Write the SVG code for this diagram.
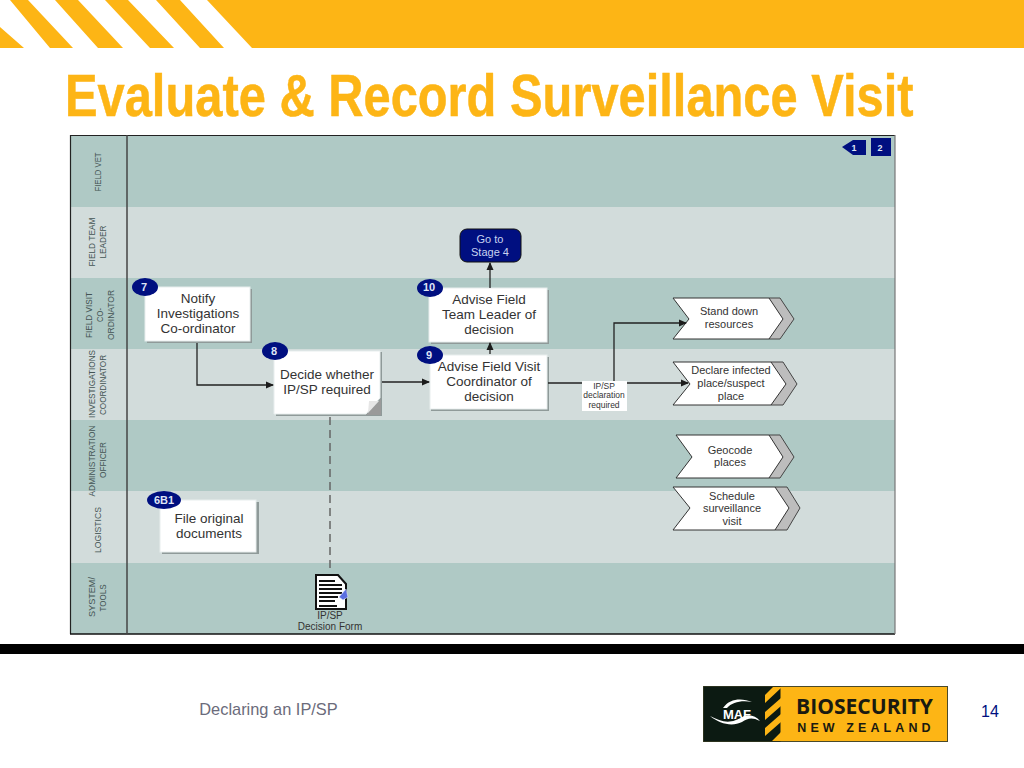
<svg xmlns="http://www.w3.org/2000/svg" width="1024" height="768" viewBox="0 0 1024 768">
<defs>
<marker id="arr" viewBox="0 0 8 8" refX="7" refY="4" markerWidth="8" markerHeight="8" markerUnits="userSpaceOnUse" orient="auto"><path d="M0 0.5L8 4L0 7.5z" fill="#1c1c1c"/></marker>
</defs>
<style>
text{font-family:"Liberation Sans",Arial,sans-serif;text-anchor:middle}
.dark{fill:#afc9c5}.light{fill:#d2dcdb}
.lane{font-size:9px;fill:#445454}
.box{fill:#fff;stroke:#e8eeee;stroke-width:1}
.sh{fill:#8f9a99}
.t{font-size:13.5px;fill:#333}
.s{font-size:11px;fill:#333}
.badge{fill:#000f80}
.b{font-size:11px;font-weight:bold;fill:#dfe4f5}
.conn{fill:none;stroke:#222;stroke-width:1.3}
.chev{fill:#fff;stroke:#333;stroke-width:1}
.chevb{fill:#bdbdbd;stroke:#444;stroke-width:1}
</style>
<g id="header">
<path fill="#fdb515" d="M207 0H1024V48H252zM156 0H180L224 48H200zM105 0H128L174 48H150zM55 0H78L123 48H98zM10 0H28L73 48H50zM0 27L24 48H0z"/>
<text transform="translate(65 116) scale(.814 1)" font-size="60" font-weight="bold" fill="#fdb515" stroke="#fdb515" stroke-width=".5" style="text-anchor:start">Evaluate &amp; Record Surveillance Visit</text>
</g>
<g id="lanes">
<rect class="dark" x="70" y="135" width="825" height="72"/>
<rect class="light" x="70" y="207" width="825" height="71"/>
<rect class="dark" x="70" y="278" width="825" height="71"/>
<rect class="light" x="70" y="349" width="825" height="71"/>
<rect class="dark" x="70" y="420" width="825" height="71"/>
<rect class="light" x="70" y="491" width="825" height="72"/>
<rect class="dark" x="70" y="563" width="825" height="71"/>
<path d="M70.500 634V135.500H895" fill="none" stroke="#222" stroke-width="1.200"/>
<path d="M70 634H895" fill="none" stroke="#111" stroke-width="1.600"/>
<path d="M895 135V634" fill="none" stroke="#777" stroke-width="1.200"/>
<path d="M127 135V634" fill="none" stroke="#444" stroke-width="1.500"/>
<g class="lane">
<text transform="translate(101 172) rotate(-90)" textLength="39" lengthAdjust="spacingAndGlyphs">FIELD VET</text>
<text transform="translate(95 242) rotate(-90)" textLength="49" lengthAdjust="spacingAndGlyphs">FIELD TEAM</text>
<text transform="translate(106 242) rotate(-90)" textLength="33" lengthAdjust="spacingAndGlyphs">LEADER</text>
<text transform="translate(92 315) rotate(-90)" textLength="46" lengthAdjust="spacingAndGlyphs">FIELD VISIT</text>
<text transform="translate(103 315) rotate(-90)" textLength="14" lengthAdjust="spacingAndGlyphs">CO-</text>
<text transform="translate(114 315) rotate(-90)" textLength="50" lengthAdjust="spacingAndGlyphs">ORDINATOR</text>
<text transform="translate(95 384) rotate(-90)" textLength="68" lengthAdjust="spacingAndGlyphs">INVESTIGATIONS</text>
<text transform="translate(106 385) rotate(-90)" textLength="60" lengthAdjust="spacingAndGlyphs">COORDINATOR</text>
<text transform="translate(95 461) rotate(-90)" textLength="71" lengthAdjust="spacingAndGlyphs">ADMINISTRATION</text>
<text transform="translate(106 460) rotate(-90)" textLength="36" lengthAdjust="spacingAndGlyphs">OFFICER</text>
<text transform="translate(101 530) rotate(-90)" textLength="46" lengthAdjust="spacingAndGlyphs">LOGISTICS</text>
<text transform="translate(95 597) rotate(-90)" textLength="40" lengthAdjust="spacingAndGlyphs">SYSTEM/</text>
<text transform="translate(106 598) rotate(-90)" textLength="27" lengthAdjust="spacingAndGlyphs">TOOLS</text>
</g>
</g>
<g id="page-ref">
<path class="badge" d="M842 147L853 140H866V155H853z"/>
<text class="b" x="854" y="151" style="font-size:9px">1</text>
<rect class="badge" x="871" y="138" width="20" height="18"/>
<text class="b" x="880" y="151" style="font-size:9px">2</text>
</g>
<g id="goto">
<rect x="460" y="229" width="61" height="33" rx="7" fill="#000f80" stroke="#111"/>
<text x="490" y="243" class="s" style="fill:#c8d2f0">Go to</text>
<text x="490" y="256" class="s" style="fill:#c8d2f0">Stage 4</text>
</g>
<g id="n7">
<rect class="sh" x="147" y="289" width="105" height="54"/>
<rect class="box" x="145" y="287" width="105" height="54"/>
<text class="t" x="198" y="303">Notify</text>
<text class="t" x="198" y="318">Investigations</text>
<text class="t" x="198" y="333">Co-ordinator</text>
<ellipse class="badge" cx="145" cy="287" rx="13" ry="9"/>
<text class="b" x="144" y="291">7</text>
</g>
<g id="n8">
<path class="sh" d="M276 352H382V416H276z"/>
<path class="box" d="M274 351H380V398L366 414H274z"/>
<path d="M366 415L381 399V415z" fill="#9a9a9a"/>
<path d="M368 413L369 401L379 401z" fill="#e6e6e6"/>
<text class="t" x="327" y="379">Decide whether</text>
<text class="t" x="327" y="394">IP/SP required</text>
<ellipse class="badge" cx="275" cy="351" rx="13" ry="9"/>
<text class="b" x="274" y="355">8</text>
</g>
<g id="n10">
<rect class="sh" x="431" y="290" width="118" height="54"/>
<rect class="box" x="429" y="288" width="118" height="54"/>
<text class="t" x="489" y="304">Advise Field</text>
<text class="t" x="489" y="319">Team Leader of</text>
<text class="t" x="489" y="334">decision</text>
<ellipse class="badge" cx="430" cy="288" rx="13" ry="9"/>
<text class="b" x="429" y="291">10</text>
</g>
<g id="n9">
<rect class="sh" x="431" y="357" width="118" height="54"/>
<rect class="box" x="430" y="355" width="117" height="54"/>
<text class="t" x="489" y="371">Advise Field Visit</text>
<text class="t" x="489" y="386">Coordinator of</text>
<text class="t" x="489" y="401">decision</text>
<ellipse class="badge" cx="430" cy="355" rx="13" ry="9"/>
<text class="b" x="429" y="359">9</text>
</g>
<g id="stand-down">
<path class="chevb" d="M769 298H780L794 319L780 339H769z"/>
<path class="chev" d="M673 298H769L783 319L769 339H673L689 319z"/>
<text class="s" x="729" y="315">Stand down</text>
<text class="s" x="729" y="328">resources</text>
</g>
<g id="declare">
<path class="chevb" d="M771 362H783L797 384L783 405H771z"/>
<path class="chev" d="M673 362H771L786 384L771 405H673L690 384z"/>
<text class="s" x="731" y="374">Declare infected</text>
<text class="s" x="731" y="387">place/suspect</text>
<text class="s" x="731" y="400">place</text>
</g>
<g id="geocode">
<path class="chevb" d="M769 435H780L794 457L780 478H769z"/>
<path class="chev" d="M676 435H769L783 457L769 478H676L692 457z"/>
<text class="s" x="730" y="454">Geocode</text>
<text class="s" x="730" y="466">places</text>
</g>
<g id="schedule">
<path class="chevb" d="M775 487H787L800 508L787 530H775z"/>
<path class="chev" d="M673 487H775L789 508L775 530H673L690 508z"/>
<text class="s" x="732" y="500">Schedule</text>
<text class="s" x="732" y="512">surveillance</text>
<text class="s" x="732" y="525">visit</text>
</g>
<g id="n6b1">
<rect class="sh" x="162" y="502" width="97" height="52"/>
<rect class="box" x="160" y="500" width="96" height="52"/>
<text class="t" x="209" y="523">File original</text>
<text class="t" x="209" y="538">documents</text>
<ellipse class="badge" cx="164" cy="500" rx="17" ry="9"/>
<text class="b" x="164" y="504">6B1</text>
</g>
<g id="connectors">
<path class="conn" d="M197 343V385H273" marker-end="url(#arr)"/>
<path class="conn" d="M382 382H429" marker-end="url(#arr)"/>
<path class="conn" d="M490 354V343" marker-end="url(#arr)"/>
<path class="conn" d="M490 288V263" marker-end="url(#arr)"/>
<path class="conn" d="M548 383H688" marker-end="url(#arr)"/>
<path class="conn" d="M614 383V323H686" marker-end="url(#arr)"/>
<path d="M330 417V572" fill="none" stroke="#666" stroke-width="1.500" stroke-dasharray="8 5"/>
</g>
<g id="decision-label">
<rect x="582" y="381" width="45" height="30" fill="#fff"/>
<text x="604" y="389" style="font-size:8.500px;fill:#333">IP/SP</text>
<text x="604" y="398" style="font-size:8.500px;fill:#333">declaration</text>
<text x="604" y="408" style="font-size:8.500px;fill:#333">required</text>
</g>
<g id="form">
<path d="M316 575H338L346 584V609H316z" fill="#fff" stroke="#111" stroke-width="2"/>
<path d="M319 581H335M319 585H342M319 589H342M319 593H342M319 597H338M319 601H335M319 606H337" stroke="#111" stroke-width="1.800" fill="none"/>
<path d="M339 597L346 589L348 597L343 600z" fill="#5a6ee0" stroke="#dfe4ff" stroke-width="0.600"/>
<text x="330" y="619" style="font-size:10px;fill:#333">IP/SP</text>
<text x="330" y="630" style="font-size:10px;fill:#333">Decision Form</text>
</g>
<g id="footer">
<rect x="0" y="644" width="1024" height="10" fill="#000"/>
<text x="268.500" y="715" style="font-size:16.400px;fill:#6b6b7b">Declaring an IP/SP</text>
<text x="990" y="717" style="font-size:16px;fill:#000f80">14</text>
</g>
<g id="logo">
<rect x="703.500" y="686.500" width="244" height="55" fill="#fdb515" stroke="#4a4a2a"/>
<rect x="703.500" y="686.500" width="77" height="55" fill="#0c1a12"/>
<path fill="#fdb515" d="M765 695L773 687H781V688L765 703zM765 712L781 698V706L765 720zM765 728L781 714V722L765 736zM772 741L781 732V741z"/>
<path d="M723 708C730 698 742 698 752 702C742 700 732 702 727 708zM710 716C722 722 730 725 744 716C750 714 756 716 760 721C752 717 748 718 742 722C732 727 720 724 710 716z" fill="#fff"/>
<text x="737" y="719" style="font-size:13px;font-weight:bold;fill:#fff">MAF</text>
<text x="864.500" y="714" style="font-size:22px;font-weight:bold;fill:#1a1a10;font-family:'Open Sans','Liberation Sans',sans-serif" textLength="137" lengthAdjust="spacingAndGlyphs">BIOSECURITY</text>
<text x="866" y="732" style="font-size:12.500px;font-weight:bold;fill:#1a1a10;letter-spacing:4.100px">NEW ZEALAND</text>
</g>
</svg>
